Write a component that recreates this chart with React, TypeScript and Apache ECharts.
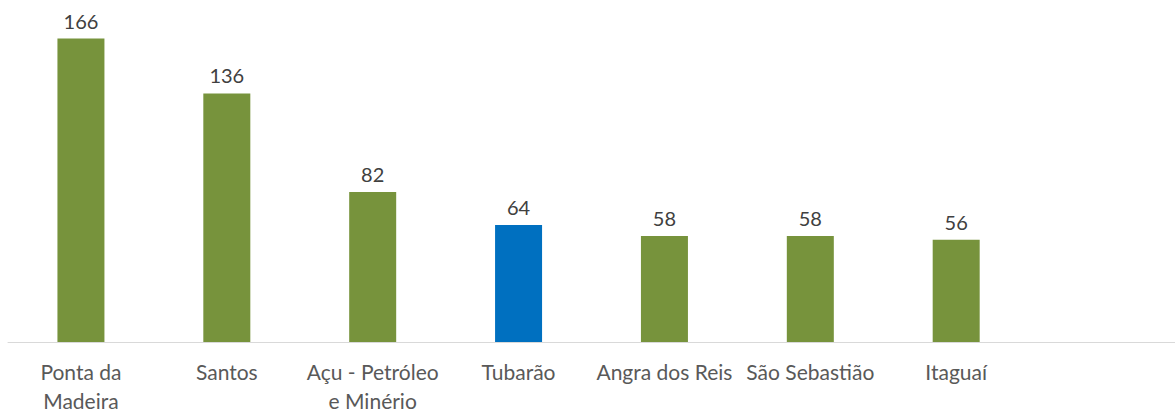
import React, { useEffect, useRef } from "react";
import * as echarts from "echarts";

const categories = [
  "Ponta da\nMadeira",
  "Santos",
  "Açu - Petróleo\ne Minério",
  "Tubarão",
  "Angra dos Reis",
  "São Sebastião",
  "Itaguaí",
  "",
];
const values: (number | null)[] = [166, 136, 82, 64, 58, 58, 56, null];
const highlighted = ["Tubarão"];

const GREEN = "#77933C";
const BLUE = "#0070C0";

export default function App() {
  const ref = useRef<HTMLDivElement>(null);
  useEffect(() => {
    if (!ref.current) return;
    const chart = echarts.init(ref.current, undefined, { renderer: "svg" });
    chart.setOption({
      animation: false,
      textStyle: { fontFamily: "Lato" },
      grid: { left: 8, top: 13, width: 1176, bottom: 67, containLabel: false },
      xAxis: {
        type: "category",
        data: categories,
        axisLine: { show: true, lineStyle: { color: "#D9D9D9", width: 1 } },
        axisTick: { show: false },
        axisLabel: {
          interval: 0,
          color: "#595959",
          fontSize: 21,
          lineHeight: 29,
          margin: 15,
          fontFamily: "Lato",
        },
      },
      yAxis: {
        type: "value",
        min: 0,
        max: 180,
        show: false,
        splitLine: { show: false },
      },
      series: [
        {
          type: "bar",
          barWidth: 47,
          data: values.map((v, i) => ({
            value: v,
            itemStyle: {
              color: highlighted.includes(categories[i]) ? BLUE : GREEN,
            },
          })),
          label: {
            show: true,
            position: "top",
            distance: 8,
            color: "#404040",
            fontSize: 20,
            fontFamily: "Lato",
          },
        },
      ],
    });
    return () => chart.dispose();
  }, []);
  return (
    <div
      ref={ref}
      style={{ position: "fixed", left: 0, top: 0, width: 1175, height: 415, background: "#fff" }}
    />
  );
}
